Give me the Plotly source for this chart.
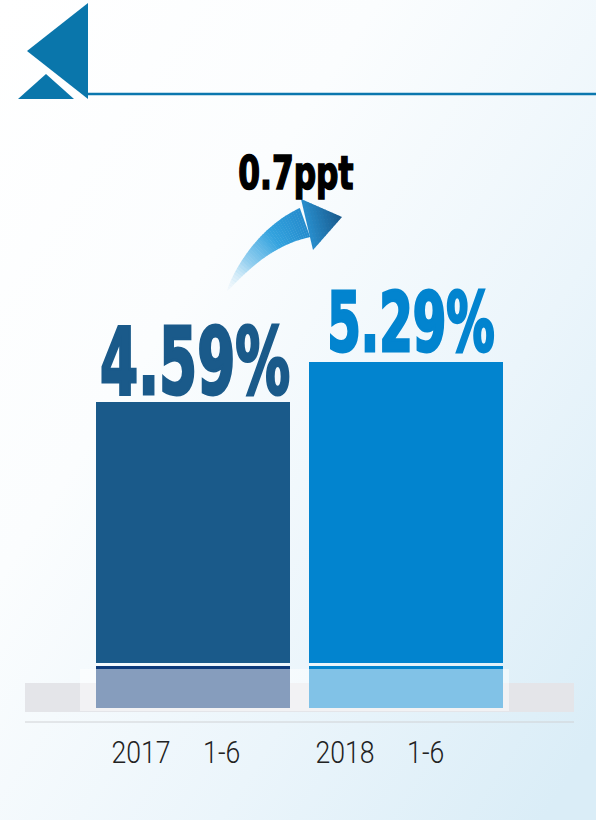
import base64
import json
import plotly.graph_objects as go

# ---------------- data ----------------
periods = ["2017\u00a0\u00a0\u00a0\u00a0\u00a01-6", "2018\u00a0\u00a0\u00a0\u00a0\u00a01-6"]
rates = [4.59, 5.29]
rate_labels = ["4.59%", "5.29%"]
change_label = "0.7ppt"

# ---------------- style ----------------
W, H = 596, 820
bar_colors = ["#1a5a8a", "#0284cf"]
lower_colors = ["#0d3a7a", "#0284cf"]
label_sizes = [93, 82]
label_yshift = [-16, -10]
label_xshift = [2, 5]
BASE_PX = 663          # pixel row of value 0
TOP_PX_FIRST = 402     # pixel row of the first bar top
UNIT_X = 213.0         # pixels between bar centres
CENTER0 = 193.0        # pixel column of first bar centre
BAR_W_PX = 194.0

k = (BASE_PX - TOP_PX_FIRST) / rates[0]       # px per unit
y_range = [-(H - BASE_PX) / k, BASE_PX / k]
x_range = [-CENTER0 / UNIT_X, -CENTER0 / UNIT_X + W / UNIT_X]
bar_w = BAR_W_PX / UNIT_X


def px(x):
    return x / W


def py(y):
    return 1 - y / H


fig = go.Figure()
fig.add_trace(go.Bar(
    x=periods, y=rates, width=bar_w,
    marker=dict(color=bar_colors, line=dict(width=0)),
    hoverinfo="skip", showlegend=False,
))

shapes = []
# grey floor band and rule
shapes.append(dict(type="rect", xref="paper", yref="paper", x0=px(25), x1=px(574),
                   y0=py(712), y1=py(683), fillcolor="#e4e5e9", line=dict(width=0), layer="below"))
shapes.append(dict(type="line", xref="paper", yref="paper", x0=px(25), x1=px(574),
                   y0=py(722), y1=py(722), line=dict(color="#d0d2d5", width=1), layer="below"))
# reflection parts under each bar
for i, c in enumerate(lower_colors):
    shapes.append(dict(type="rect", xref="x", yref="paper", x0=i - bar_w / 2, x1=i + bar_w / 2,
                       y0=py(708), y1=py(666), fillcolor=c, line=dict(width=0), layer="above"))
shapes.append(dict(type="rect", xref="paper", yref="paper", x0=px(80), x1=px(509),
                   y0=py(711), y1=py(669), fillcolor="rgba(255,255,255,0.5)",
                   line=dict(width=0), layer="above"))

# logo
logo_c = "#0a76ab"


def poly(pts):
    return "M " + " L ".join(f"{px(a):.5f},{py(b):.5f}" for a, b in pts) + " Z"


shapes.append(dict(type="path", xref="paper", yref="paper",
                   path=poly([(88, 3), (27, 51), (88, 99)]),
                   fillcolor=logo_c, line=dict(width=0)))
shapes.append(dict(type="path", xref="paper", yref="paper",
                   path=poly([(18, 99), (46, 74), (74, 99)]),
                   fillcolor=logo_c, line=dict(width=0)))
shapes.append(dict(type="line", xref="paper", yref="paper", x0=px(88), x1=px(596),
                   y0=py(94), y1=py(94), line=dict(color="#0b77ae", width=2.5)))


# gradient arrow
def lerp(a, b, t):
    return a + (b - a) * t


def col(stops, t):
    for (t0, c0), (t1, c1) in zip(stops, stops[1:]):
        if t0 <= t <= t1:
            f = (t - t0) / (t1 - t0) if t1 > t0 else 0
            return tuple(lerp(c0[j], c1[j], f) for j in range(4))
    return stops[-1][1]


shaft_stops = [(0, (235, 245, 252, 0.3)), (0.3, (150, 208, 240, 1)),
               (0.65, (50, 162, 222, 1)), (1, (38, 140, 205, 1))]
P0, P1, P2 = (227, 291), (259.8, 238.5), (305, 222.5)
N = 40


def bez(t):
    x = (1 - t) ** 2 * P0[0] + 2 * (1 - t) * t * P1[0] + t * t * P2[0]
    y = (1 - t) ** 2 * P0[1] + 2 * (1 - t) * t * P1[1] + t * t * P2[1]
    dx = 2 * (1 - t) * (P1[0] - P0[0]) + 2 * t * (P2[0] - P1[0])
    dy = 2 * (1 - t) * (P1[1] - P0[1]) + 2 * t * (P2[1] - P1[1])
    n = (dx * dx + dy * dy) ** 0.5
    return x, y, dy / n, -dx / n


def edges(t):
    x, y, nx, ny = bez(t)
    w = 31 * t ** 0.75 / 2
    return (x + nx * w, y + ny * w), (x - nx * w, y - ny * w)


for i in range(N):
    t0, t1 = i / N, min((i + 1.15) / N, 1.0)
    u0, l0 = edges(t0)
    u1, l1 = edges(t1)
    r, g, b, a = col(shaft_stops, (t0 + t1) / 2)
    c = f"rgba({r:.0f},{g:.0f},{b:.0f},{a:.2f})"
    shapes.append(dict(type="path", xref="paper", yref="paper",
                       path=poly([u0, u1, l1, l0]), fillcolor=c, line=dict(width=0)))

bt, bb, tip = (301, 199), (313, 250), (342, 217)
head_stops = [(0, (40, 142, 205, 1)), (1, (24, 88, 138, 1))]
M = 12
for i in range(M):
    f0, f1 = i / M, min((i + 1.2) / M, 1.0)
    a0 = (lerp(bt[0], tip[0], f0), lerp(bt[1], tip[1], f0))
    a1 = (lerp(bt[0], tip[0], f1), lerp(bt[1], tip[1], f1))
    b0 = (lerp(bb[0], tip[0], f0), lerp(bb[1], tip[1], f0))
    b1 = (lerp(bb[0], tip[0], f1), lerp(bb[1], tip[1], f1))
    r, g, b, a = col(head_stops, (f0 + f1) / 2)
    shapes.append(dict(type="path", xref="paper", yref="paper",
                       path=poly([a0, a1, b1, b0]), fillcolor=f"rgb({r:.0f},{g:.0f},{b:.0f})",
                       line=dict(width=0)))

# annotations  (order matters for the horizontal condensing below)
annotations = []
x_scales = []
strokes = []
num_font = "DejaVu Sans Condensed, DejaVu Sans, sans-serif"
for i, (v, lab) in enumerate(zip(rates, rate_labels)):
    annotations.append(dict(x=periods[i], y=v, xref="x", yref="y", text=f"<b>{lab}</b>",
                            showarrow=False, yanchor="bottom", xanchor="center",
                            yshift=label_yshift[i], xshift=label_xshift[i],
                            font=dict(family=num_font, size=label_sizes[i], color=bar_colors[i])))
    x_scales.append(0.655)
    strokes.append([bar_colors[i], 3])
annotations.append(dict(x=px(296), y=py(173), xref="paper", yref="paper", text=f"<b>{change_label}</b>",
                        showarrow=False, xanchor="center", yanchor="middle",
                        font=dict(family=num_font, size=47, color="#000000")))
x_scales.append(0.74)
strokes.append(["#000000", 1.6])
label_centers = [175.5, 379.5]
for i, p in enumerate(periods):
    annotations.append(dict(x=px(label_centers[i]), y=py(752), xref="paper", yref="paper", text=p,
                            showarrow=False, xanchor="center", yanchor="middle",
                            font=dict(family="Roboto, Noto Sans, sans-serif", size=31,
                                      color="#222222", weight=300)))
    x_scales.append(0.86)
    strokes.append(None)

# background gradient
svg = (f'<svg xmlns="http://www.w3.org/2000/svg" width="{W}" height="{H}" viewBox="0 0 {W} {H}">'
       '<defs><linearGradient id="g" x1="0" y1="0" x2="1" y2="0.9">'
       '<stop offset="0" stop-color="#ffffff"/><stop offset="0.35" stop-color="#fbfdfe"/>'
       '<stop offset="0.7" stop-color="#ebf5fb"/><stop offset="1" stop-color="#daedf7"/>'
       '</linearGradient></defs>'
       f'<rect width="{W}" height="{H}" fill="url(#g)"/></svg>')
bg = "data:image/svg+xml;base64," + base64.b64encode(svg.encode()).decode()

fig.update_layout(
    width=W, height=H,
    margin=dict(l=0, r=0, t=0, b=0),
    paper_bgcolor="#ffffff", plot_bgcolor="rgba(0,0,0,0)",
    xaxis=dict(range=x_range, visible=False, fixedrange=True),
    yaxis=dict(range=y_range, visible=False, fixedrange=True),
    shapes=shapes, annotations=annotations,
    images=[dict(source=bg, xref="paper", yref="paper", x=0, y=1, sizex=1, sizey=1,
                 xanchor="left", yanchor="top", sizing="stretch", layer="below")],
    bargap=0, showlegend=False,
)

post = """
document.body.style.margin = '0';
document.body.style.overflow = 'hidden';
var gd = document.getElementById('{plot_id}');
var SCALES = __SCALES__;
var STROKES = __STROKES__;
function condense() {
  var anns = gd.querySelectorAll('g.annotation');
  anns.forEach(function (g) {
    var idx = parseInt(g.getAttribute('data-index'));
    var t = g.querySelector('text.annotation-text');
    if (t && SCALES[idx] !== undefined) {
      t.style.transformBox = 'fill-box';
      t.style.transformOrigin = '50% 50%';
      t.style.transform = 'scaleX(' + SCALES[idx] + ')';
      var s = STROKES[idx];
      if (s) {
        t.style.stroke = s[0];
        t.style.strokeWidth = s[1] + 'px';
        t.style.strokeLinejoin = 'miter';
      }
    }
  });
}
condense();
setTimeout(condense, 100);
setTimeout(condense, 500);
if (gd.on) { gd.on('plotly_afterplot', condense); }
""".replace("__SCALES__", json.dumps(x_scales)).replace("__STROKES__", json.dumps(strokes))

fig.write_html("out.html", config={"displayModeBar": False, "staticPlot": True}, post_script=post)
